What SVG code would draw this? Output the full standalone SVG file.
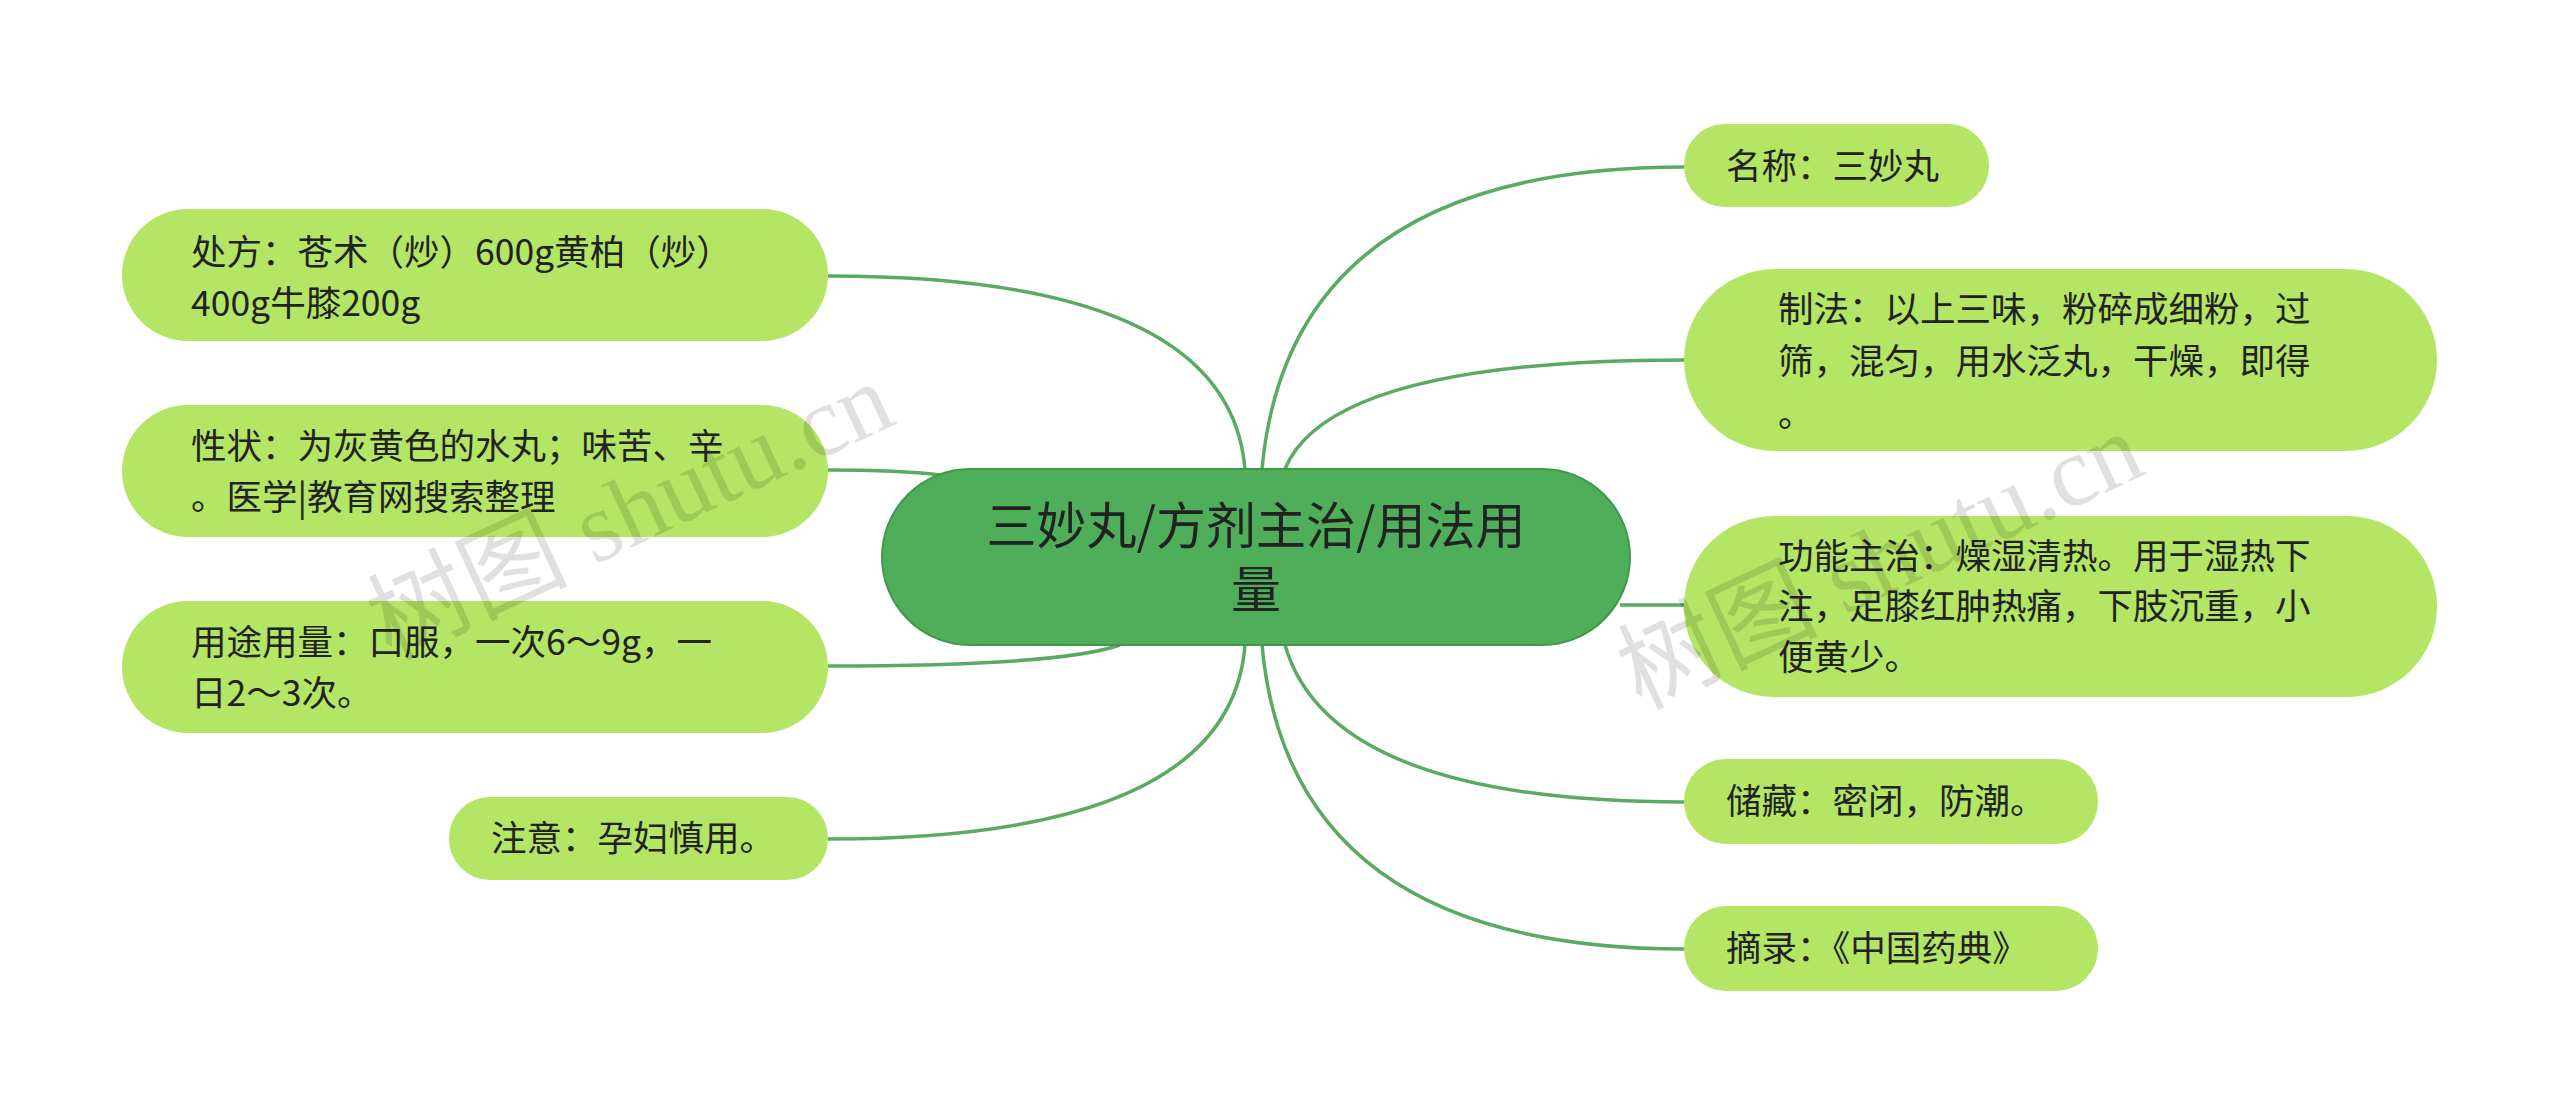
<svg xmlns="http://www.w3.org/2000/svg" width="2560" height="1113" viewBox="0 0 2560 1113">
<style>
.n{fill:#b4e564}
.t{font-family:"Noto Sans CJK SC","Noto Sans",sans-serif;font-size:35.5px;fill:#222}
.c{fill:none;stroke:#5aab61;stroke-width:3.5}
.w{font-family:"Liberation Serif","Noto Sans CJK SC",serif;font-size:100px;fill:#000;fill-opacity:0.12}
</style>
<rect width="2560" height="1113" fill="#fff"/>
<g id="connectors">
<path class="c" d="M1245 470 Q1230 276 828 276"/>
<path class="c" d="M940 475 Q900 470 828 470"/>
<path class="c" d="M1120 645 Q1060 666 828 666"/>
<path class="c" d="M1245 645 Q1230 839 828 839"/>
<path class="c" d="M1262 469 Q1290 167 1684 167"/>
<path class="c" d="M1285 469 Q1330 360 1684 360"/>
<path class="c" d="M1620 605 L1684 605"/>
<path class="c" d="M1285 645 Q1330 802 1684 802"/>
<path class="c" d="M1262 645 Q1290 949 1684 949"/>
</g>
<g id="center"><rect x="882" y="469" width="748" height="176" rx="88" fill="#4fae59" stroke="#3f9a48" stroke-width="2"/>
<text x="1256" y="544" text-anchor="middle" font-family="Noto Sans CJK SC,sans-serif" font-size="50" fill="#222">三妙丸/方剂主治/用法用</text>
<text x="1256" y="608" text-anchor="middle" font-family="Noto Sans CJK SC,sans-serif" font-size="50" fill="#222">量</text></g>
<g id="l1"><rect class="n" x="122" y="209" width="706" height="132" rx="66"/><text class="t" x="191" y="265">处方：苍术（炒）600g黄柏（炒）</text><text class="t" x="191" y="316">400g牛膝200g</text></g>
<g id="l2"><rect class="n" x="122" y="405" width="706" height="132" rx="66"/><text class="t" x="191" y="459">性状：为灰黄色的水丸；味苦、辛</text><text class="t" x="191" y="510">。医学|教育网搜索整理</text></g>
<g id="l3"><rect class="n" x="122" y="601" width="706" height="132" rx="66"/><text class="t" x="191" y="655">用途用量：口服，一次6～9g，一</text><text class="t" x="191" y="706">日2～3次。</text></g>
<g id="l4"><rect class="n" x="449" y="797" width="379" height="83" rx="41"/><text class="t" x="491" y="851">注意：孕妇慎用。</text></g>
<g id="r1"><rect class="n" x="1684" y="124" width="305" height="83" rx="41"/><text class="t" x="1726" y="179">名称：三妙丸</text></g>
<g id="r2"><rect class="n" x="1684" y="269" width="753" height="182" rx="91"/><text class="t" x="1778" y="322">制法：以上三味，粉碎成细粉，过</text><text class="t" x="1778" y="374">筛，混匀，用水泛丸，干燥，即得</text><text class="t" x="1778" y="427">。</text></g>
<g id="r3"><rect class="n" x="1684" y="516" width="753" height="181" rx="90"/><text class="t" x="1778" y="569">功能主治：燥湿清热。用于湿热下</text><text class="t" x="1778" y="619">注，足膝红肿热痛，下肢沉重，小</text><text class="t" x="1778" y="670">便黄少。</text></g>
<g id="r4"><rect class="n" x="1684" y="759" width="414" height="85" rx="42"/><text class="t" x="1726" y="814">储藏：密闭，防潮。</text></g>
<g id="r5"><rect class="n" x="1684" y="906" width="414" height="85" rx="42"/><text class="t" x="1726" y="961">摘录：《中国药典》</text></g>
<text class="w" transform="translate(390 660) rotate(-25)">树图 shutu.cn</text>
<text class="w" transform="translate(1640 710) rotate(-25)">树图 shutu.cn</text>
</svg>
